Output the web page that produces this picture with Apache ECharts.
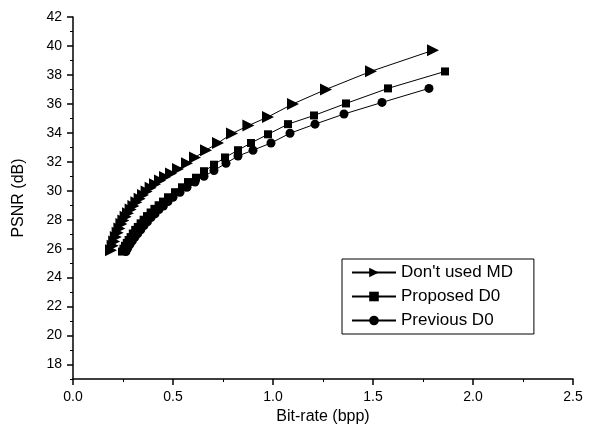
<!DOCTYPE html>
<html>
<head>
<meta charset="utf-8">
<script src="https://cdn.jsdelivr.net/npm/echarts@6/dist/echarts.min.js"></script>
<style>
    html, body { margin: 0; padding: 0; background: #fff; }
    #graph { width: 591px; height: 436px; }
</style>
</head>
<body>
<div id="graph"></div>
<script>
// (bit-rate in bpp, PSNR in dB)
var rateNoMD = [0.19, 0.198, 0.206, 0.214, 0.223, 0.232, 0.242, 0.252, 0.263, 0.275, 0.288, 0.302, 0.317, 0.333, 0.35, 0.368, 0.388, 0.41, 0.435, 0.46, 0.49, 0.525, 0.57, 0.61, 0.665, 0.725, 0.795, 0.877, 0.975, 1.10, 1.265, 1.49, 1.80];
var psnrNoMD = [25.9, 26.2, 26.5, 26.8, 27.1, 27.4, 27.7, 27.95, 28.2, 28.45, 28.7, 28.95, 29.2, 29.45, 29.7, 29.95, 30.2, 30.45, 30.7, 30.95, 31.2, 31.5, 31.9, 32.3, 32.8, 33.3, 33.95, 34.5, 35.1, 36.0, 37.0, 38.25, 39.7];

var rateProposed = [0.245, 0.252, 0.26, 0.269, 0.278, 0.288, 0.299, 0.311, 0.324, 0.338, 0.353, 0.37, 0.388, 0.407, 0.428, 0.45, 0.475, 0.51, 0.545, 0.575, 0.615, 0.655, 0.705, 0.76, 0.825, 0.89, 0.975, 1.075, 1.205, 1.365, 1.575, 1.86];
var psnrProposed = [25.8, 26.0, 26.2, 26.4, 26.6, 26.8, 27.05, 27.3, 27.5, 27.75, 28.0, 28.25, 28.5, 28.75, 29.0, 29.25, 29.55, 29.9, 30.24, 30.6, 30.9, 31.35, 31.8, 32.3, 32.8, 33.3, 33.9, 34.6, 35.2, 36.03, 37.07, 38.24];

var ratePrevious = [0.265, 0.274, 0.285, 0.297, 0.31, 0.324, 0.339, 0.355, 0.372, 0.39, 0.41, 0.43, 0.452, 0.475, 0.50, 0.535, 0.57, 0.61, 0.655, 0.705, 0.765, 0.825, 0.90, 0.99, 1.085, 1.21, 1.355, 1.545, 1.78];
var psnrPrevious = [25.8, 26.05, 26.3, 26.55, 26.8, 27.05, 27.3, 27.6, 27.85, 28.15, 28.4, 28.7, 28.95, 29.25, 29.55, 29.9, 30.24, 30.6, 31.0, 31.4, 31.9, 32.4, 32.8, 33.3, 33.97, 34.6, 35.3, 36.1, 37.07];

var seriesNames = ["Don't used MD", "Proposed D0", "Previous D0"];
var yMajorTicks = [18, 20, 22, 24, 26, 28, 30, 32, 34, 36, 38, 40, 42];
var yMinorTicks = [17, 19, 21, 23, 25, 27, 29, 31, 33, 35, 37, 39, 41];

function zip(xs, ys) {
    var out = [];
    for (var i = 0; i < xs.length; i++) {
        out.push([xs[i], ys[i]]);
    }
    return out;
}

var font = "'Liberation Sans', Arial, sans-serif";
var chart = echarts.init(document.getElementById("graph"));

var lineSeries = function(name, data, symbol, size, rotate) {
    return {
        name: name,
        type: "line",
        data: data,
        symbol: symbol,
        symbolSize: size,
        symbolRotate: rotate,
        showSymbol: true,
        itemStyle: { color: "#000" },
        lineStyle: { color: "#000", width: 1 }
    };
};

var option = {
    backgroundColor: "#fff",
    animation: false,
    grid: { left: 73, right: 18, top: 17, bottom: 57 },
    legend: {
        orient: "vertical",
        left: 342,
        top: 259,
        padding: [5, 21, 5, 9],
        itemGap: 7,
        itemWidth: 44,
        itemHeight: 12,
        borderColor: "#000",
        borderWidth: 1,
        textStyle: { fontFamily: font, fontSize: 17, color: "#000" },
        data: seriesNames
    },
    xAxis: {
        type: "value",
        min: 0,
        max: 2.5,
        interval: 0.5,
        name: "Bit-rate (bpp)",
        nameLocation: "middle",
        nameGap: 23,
        nameTextStyle: { fontFamily: font, fontSize: 16, color: "#000" },
        axisLine: { lineStyle: { color: "#000", width: 1.5 } },
        axisTick: { length: 6, lineStyle: { color: "#000", width: 1.5 } },
        minorTick: { show: true, splitNumber: 2, length: 3, lineStyle: { color: "#000" } },
        splitLine: { show: false },
        axisLabel: {
            margin: 11,
            fontFamily: font,
            fontSize: 14,
            color: "#000",
            formatter: function(v) { return v.toFixed(1); }
        }
    },
    yAxis: [
        {
            type: "value",
            min: 17,
            max: 42,
            name: "PSNR (dB)",
            nameLocation: "middle",
            nameGap: 46,
            nameTextStyle: { fontFamily: font, fontSize: 16, color: "#000" },
            axisLine: { show: true, lineStyle: { color: "#000", width: 1.5 } },
            axisTick: { customValues: yMajorTicks, length: 6, lineStyle: { color: "#000", width: 1.5 } },
            splitLine: { show: false },
            axisLabel: {
                customValues: yMajorTicks,
                margin: 11,
                fontFamily: font,
                fontSize: 14,
                color: "#000"
            }
        },
        {
            // odd minor ticks only
            type: "value",
            position: "left",
            min: 17,
            max: 42,
            axisLine: { show: false },
            axisTick: { show: true, customValues: yMinorTicks, length: 3, lineStyle: { color: "#000" } },
            axisLabel: { show: false, customValues: yMinorTicks },
            splitLine: { show: false }
        }
    ],
    series: [
        lineSeries(seriesNames[0], zip(rateNoMD, psnrNoMD), "triangle", 12, -90),
        lineSeries(seriesNames[1], zip(rateProposed, psnrProposed), "rect", 8, 0),
        lineSeries(seriesNames[2], zip(ratePrevious, psnrPrevious), "circle", 9, 0)
    ]
};

chart.setOption(option);
</script>
</body>
</html>
